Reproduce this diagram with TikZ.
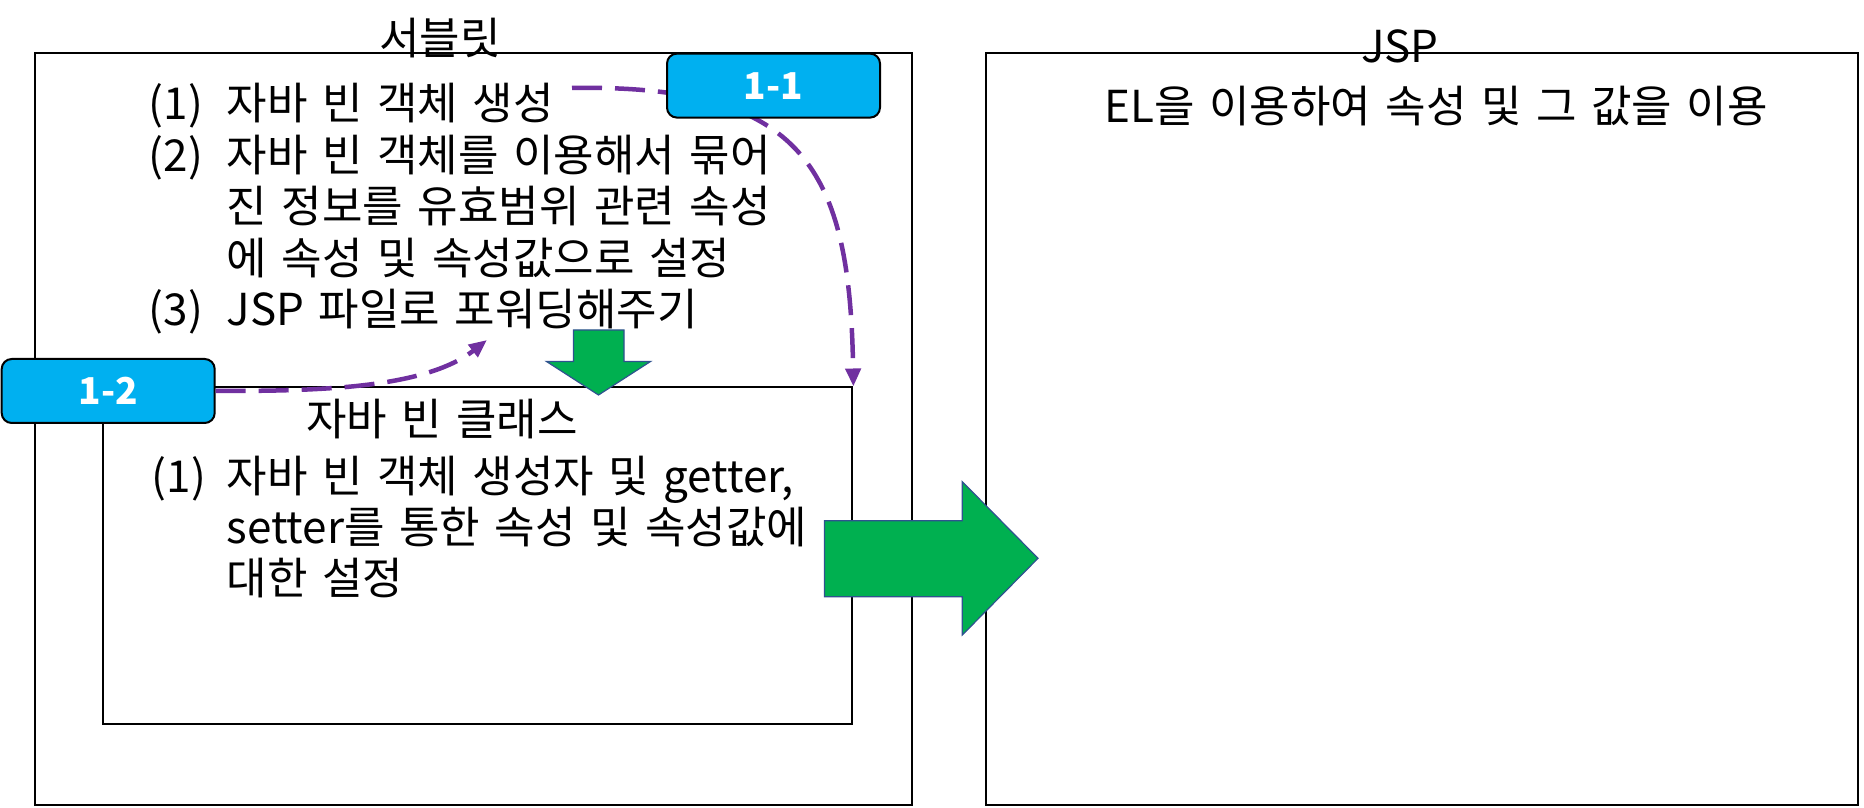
\documentclass[tikz,border=0pt]{standalone}
\usepackage{fontspec}
\setmainfont{Noto Sans CJK KR}
\usetikzlibrary{arrows.meta,positioning}

\definecolor{tagblue}{HTML}{00B0F0}
\definecolor{flowgreen}{HTML}{00B050}
\definecolor{flowedge}{HTML}{2F528F}
\definecolor{linkpurple}{HTML}{7030A0}

\newcommand\txtfont{\fontsize{44}{50}\selectfont\spaceskip=14.5pt\relax}

\tikzstyle{box} = [draw,line width=2pt,inner sep=0pt]
\tikzstyle{tag} = [draw,line width=2pt,fill=tagblue,rounded corners=10pt,text=white,font=\fontsize{37}{40}\selectfont\bfseries,minimum width=213pt,minimum height=64pt]
\tikzstyle{txt} = [inner sep=0pt,font=\txtfont]
\tikzstyle{bigarrow} = [fill=flowgreen,draw=flowedge,line width=1.2pt]
\tikzstyle{link} = [draw=linkpurple,line width=4.5pt,dash pattern=on 30pt off 13pt,-{Triangle[length=18pt,width=15pt]}]

\begin{document}
\begin{tikzpicture}[x=1pt,y=1pt]
  \useasboundingbox (0,0) rectangle (1864,807);

  \node[box,minimum width=877.5pt,minimum height=751.5pt] (servlet) at (473.25,377.75) {};
  \node[box,minimum width=872.5pt,minimum height=751.5pt] (jsp) at (1421.75,377.75) {};
  \node[box,minimum width=749pt,minimum height=336.5pt] (bean) at (477.9,251.25) {};

  \node[txt,anchor=base] (servlettitle) at (440,752) {서블릿};
  \node[txt,anchor=base] (jsptitle) at (1400,744) {JSP};
  \node[txt,anchor=base] (beantitle) at (442,371) {자바 빈 클래스};

  \node[txt,anchor=base west] (servletlist) at (148.6,687) {\begin{tabular}[t]{@{}p{78pt}@{}l@{}}
    (1) & 자바 빈 객체 생성\\
    (2) & 자바 빈 객체를 이용해서 묶어\\
        & 진 정보를 유효범위 관련 속성\\
        & 에 속성 및 속성값으로 설정\\
    (3) & JSP 파일로 포워딩해주기
  \end{tabular}};
  \node[txt,anchor=base west] (beanlist) at (151.6,315) {\begin{tabular}[t]{@{}p{75pt}@{}l@{}}
    (1) & 자바 빈 객체 생성자 및 getter,\\
        & setter를 통한 속성 및 속성값에\\
        & 대한 설정
  \end{tabular}};
  \node[txt,anchor=base] (eltext) at (1436,684) {EL을 이용하여 속성 및 그 값을 이용};

  % block arrows
  \draw[bigarrow] (573.5,477) -- (624,477) -- (624,445.5) -- (650.5,445.5)
    -- (598.5,412) -- (546.5,445.5) -- (573.5,445.5) -- cycle;
  \draw[bigarrow] (824.5,286.3) -- (962.3,286.3) -- (962.3,325.3) -- (1038,248.7)
    -- (962.3,172) -- (962.3,210.3) -- (824.5,210.3) -- cycle;

  \node[tag] (n12) at (108.2,416) {1-2};
  \coordinate (a11) at (572,719);
  \coordinate (a12) at (487,467);
  \path[link] (n12.east) .. controls (314,416) and (424,417.7) .. (a12);
  \path[link] (a11) .. controls (805,723) and (850,637) .. (bean.north east);
  \node[tag] (n11) at (773.5,721.4) {1-1};
\end{tikzpicture}
\end{document}
